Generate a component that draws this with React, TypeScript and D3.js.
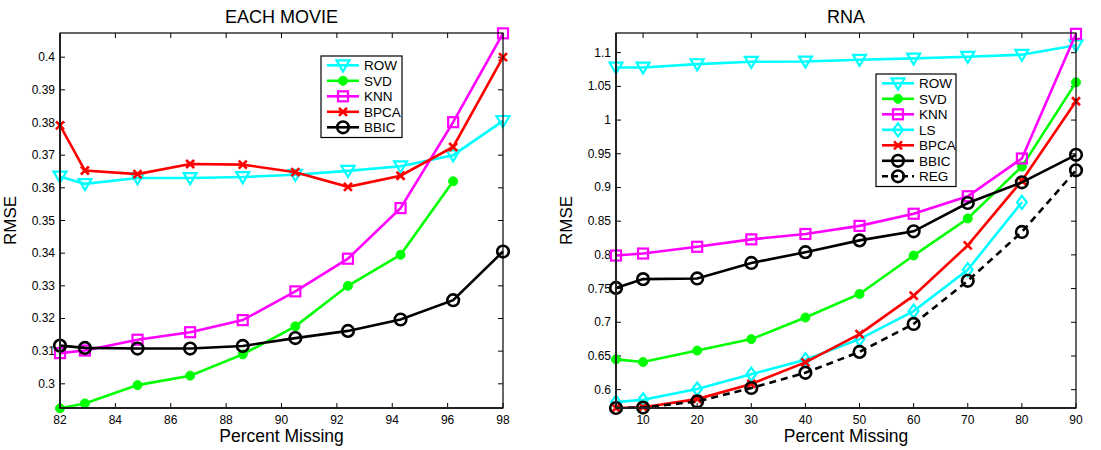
import React from "react";
import * as d3 from "d3";

// ---------- Data ----------
const movieX = [82, 82.9, 84.8, 86.7, 88.6, 90.5, 92.4, 94.3, 96.2, 98];
const movieRow = [0.3635, 0.3612, 0.363, 0.363, 0.3633, 0.364, 0.3652, 0.3666, 0.37, 0.3805];
const movieSvd = [0.2925, 0.294, 0.2996, 0.3025, 0.309, 0.3176, 0.33, 0.3395, 0.362];
const movieKnn = [0.3094, 0.3102, 0.3135, 0.3158, 0.3195, 0.3283, 0.3383, 0.3538, 0.3801, 0.4073];
const movieBpca = [0.3791, 0.3653, 0.3642, 0.3673, 0.3671, 0.3648, 0.3603, 0.3637, 0.3725, 0.4];
const movieBbic = [0.3117, 0.311, 0.3108, 0.3108, 0.3116, 0.314, 0.3162, 0.3197, 0.3256, 0.3405];
const movieXTicks = [82, 84, 86, 88, 90, 92, 94, 96, 98];
const movieYTicks = [0.3, 0.31, 0.32, 0.33, 0.34, 0.35, 0.36, 0.37, 0.38, 0.39, 0.4];

const rnaX = [5, 10, 20, 30, 40, 50, 60, 70, 80, 90];
const rnaRow = [1.078, 1.078, 1.083, 1.0865, 1.087, 1.0895, 1.0915, 1.094, 1.097, 1.111];
const rnaSvd = [0.645, 0.641, 0.658, 0.675, 0.707, 0.742, 0.799, 0.854, 0.931, 1.056];
const rnaKnn = [0.799, 0.802, 0.812, 0.823, 0.831, 0.843, 0.861, 0.887, 0.943, 1.128];
const rnaLs = [0.5815, 0.585, 0.601, 0.623, 0.6445, 0.675, 0.7165, 0.778, 0.878];
const rnaBpca = [0.5728, 0.574, 0.586, 0.6085, 0.6405, 0.6825, 0.7395, 0.814, 0.91, 1.028];
const rnaBbic = [0.751, 0.764, 0.765, 0.788, 0.804, 0.8215, 0.835, 0.877, 0.9076, 0.9485];
const rnaReg = [0.5728, 0.5735, 0.5825, 0.6025, 0.625, 0.656, 0.6975, 0.7615, 0.834, 0.9255];
const rnaXTicks = [10, 20, 30, 40, 50, 60, 70, 80, 90];
const rnaYTicks = [0.6, 0.65, 0.7, 0.75, 0.8, 0.85, 0.9, 0.95, 1, 1.05, 1.1];

type Marker = "tri" | "dot" | "square" | "x" | "circle" | "diamond";
interface Series {
  name: string;
  values: number[];
  color: string;
  marker: Marker;
  dashed?: boolean;
}

const movieSeries: Series[] = [
  { name: "ROW", values: movieRow, color: "#00ffff", marker: "tri" },
  { name: "SVD", values: movieSvd, color: "#00ff00", marker: "dot" },
  { name: "KNN", values: movieKnn, color: "#ff00ff", marker: "square" },
  { name: "BPCA", values: movieBpca, color: "#ff0000", marker: "x" },
  { name: "BBIC", values: movieBbic, color: "#000000", marker: "circle" },
];

const rnaSeries: Series[] = [
  { name: "ROW", values: rnaRow, color: "#00ffff", marker: "tri" },
  { name: "SVD", values: rnaSvd, color: "#00ff00", marker: "dot" },
  { name: "KNN", values: rnaKnn, color: "#ff00ff", marker: "square" },
  { name: "LS", values: rnaLs, color: "#00ffff", marker: "diamond" },
  { name: "BPCA", values: rnaBpca, color: "#ff0000", marker: "x" },
  { name: "BBIC", values: rnaBbic, color: "#000000", marker: "circle" },
  { name: "REG", values: rnaReg, color: "#000000", marker: "circle", dashed: true },
];

const FONT = "'Liberation Sans', Arial, Helvetica, sans-serif";

function MarkerShape({ type, x, y, color }: { type: Marker; x: number; y: number; color: string }) {
  const sw = 2.2;
  switch (type) {
    case "tri": {
      const s = 6.5;
      const p = `M${x - s},${y - s * 0.75} L${x + s},${y - s * 0.75} L${x},${y + s * 0.95} Z`;
      return <path d={p} fill="none" stroke={color} strokeWidth={sw} />;
    }
    case "dot":
      return <circle cx={x} cy={y} r={4.5} fill={color} stroke={color} strokeWidth={1} />;
    case "square":
      return <rect x={x - 5} y={y - 5} width={10} height={10} fill="none" stroke={color} strokeWidth={sw} />;
    case "x": {
      const s = 4;
      return (
        <path
          d={`M${x - s},${y - s} L${x + s},${y + s} M${x - s},${y + s} L${x + s},${y - s}`}
          stroke={color}
          strokeWidth={2.6}
          fill="none"
        />
      );
    }
    case "circle":
      return <circle cx={x} cy={y} r={5.8} fill="none" stroke={color} strokeWidth={sw + 0.4} />;
    case "diamond": {
      const s = 6.5;
      return (
        <path
          d={`M${x},${y - s} L${x + s * 0.75},${y} L${x},${y + s} L${x - s * 0.75},${y} Z`}
          fill="none"
          stroke={color}
          strokeWidth={sw}
        />
      );
    }
  }
  return null;
}

interface PanelProps {
  title: string;
  left: number;
  right: number;
  top: number;
  bottom: number;
  xDomain: [number, number];
  yDomain: [number, number];
  xs: number[];
  series: Series[];
  xTicks: number[];
  yTicks: number[];
  legend: { x: number; y: number; w: number };
}

function Panel(p: PanelProps) {
  const x = d3.scaleLinear().domain(p.xDomain).range([p.left, p.right]);
  const y = d3.scaleLinear().domain(p.yDomain).range([p.bottom, p.top]);
  const line = d3
    .line<[number, number]>()
    .x((d) => x(d[0]))
    .y((d) => y(d[1]));
  const fmt = (v: number) => String(+v.toFixed(3));
  const tl = 5;
  const cx = (p.left + p.right) / 2;
  const rowH = 15.5;
  const legH = p.series.length * rowH + 4;
  return (
    <g>
      <text x={cx} y={23} textAnchor="middle" fontFamily={FONT} fontSize={18}>
        {p.title}
      </text>
      {/* ticks */}
      {p.xTicks.map((t) => (
        <g key={"xt" + t}>
          <line x1={x(t)} x2={x(t)} y1={p.bottom} y2={p.bottom - tl} stroke="#000" strokeWidth={1} />
          <line x1={x(t)} x2={x(t)} y1={p.top} y2={p.top + tl} stroke="#000" strokeWidth={1} />
          <text x={x(t)} y={p.bottom + 16} textAnchor="middle" fontFamily={FONT} fontSize={12}>
            {fmt(t)}
          </text>
        </g>
      ))}
      {p.yTicks.map((t) => (
        <g key={"yt" + t}>
          <line x1={p.left} x2={p.left + tl} y1={y(t)} y2={y(t)} stroke="#000" strokeWidth={1} />
          <line x1={p.right} x2={p.right - tl} y1={y(t)} y2={y(t)} stroke="#000" strokeWidth={1} />
          <text x={p.left - 5} y={y(t) + 4} textAnchor="end" fontFamily={FONT} fontSize={12}>
            {fmt(t)}
          </text>
        </g>
      ))}
      <text
        transform={`translate(${p.left - 44},${(p.top + p.bottom) / 2}) rotate(-90)`}
        textAnchor="middle"
        fontFamily={FONT}
        fontSize={17}
      >
        RMSE
      </text>
      <text x={cx} y={p.bottom + 34} textAnchor="middle" fontFamily={FONT} fontSize={17.5}>
        Percent Missing
      </text>
      {/* series */}
      {p.series.map((s) => {
        const pts = s.values.map((v, i) => [p.xs[i], v] as [number, number]);
        return (
          <g key={s.name}>
            <path
              d={line(pts) || ""}
              fill="none"
              stroke={s.color}
              strokeWidth={2.6}
              strokeDasharray={s.dashed ? "7,5" : undefined}
            />
            {pts.map((d, i) => (
              <MarkerShape key={i} type={s.marker} x={x(d[0])} y={y(d[1])} color={s.color} />
            ))}
          </g>
        );
      })}
      {/* box */}
      <rect
        x={p.left}
        y={p.top}
        width={p.right - p.left}
        height={p.bottom - p.top}
        fill="none"
        stroke="#000"
        strokeWidth={1.2}
      />
      <line x1={p.left} x2={p.left} y1={p.top} y2={p.bottom} stroke="#222" strokeWidth={2} />
      <line x1={p.left} x2={p.right} y1={p.bottom} y2={p.bottom} stroke="#222" strokeWidth={2} />
      {/* legend */}
      <g transform={`translate(${p.legend.x},${p.legend.y})`}>
        <rect x={0} y={0} width={p.legend.w} height={legH} fill="#fff" stroke="#000" strokeWidth={1.2} />
        {p.series.map((s, i) => {
          const yy = 9.3 + i * rowH;
          return (
            <g key={s.name}>
              <line
                x1={6}
                x2={38}
                y1={yy}
                y2={yy}
                stroke={s.color}
                strokeWidth={2.6}
                strokeDasharray={s.dashed ? "6,4" : undefined}
              />
              <MarkerShape type={s.marker} x={22} y={yy} color={s.color} />
              <text x={43} y={yy + 5} fontFamily={FONT} fontSize={13.5}>
                {s.name}
              </text>
            </g>
          );
        })}
      </g>
    </g>
  );
}

export default function App() {
  return (
    <svg
      width={1101}
      height={450}
      style={{ position: "absolute", left: 0, top: 0, background: "#fff" }}
    >
      <rect width={1101} height={450} fill="#fff" />
      <Panel
        title="EACH MOVIE"
        left={60}
        right={503}
        top={33}
        bottom={408}
        xDomain={[82, 98]}
        yDomain={[0.2926, 0.4074]}
        xs={movieX}
        series={movieSeries}
        xTicks={movieXTicks}
        yTicks={movieYTicks}
        legend={{ x: 321, y: 56, w: 81 }}
      />
      <Panel
        title="RNA"
        left={616}
        right={1076}
        top={33}
        bottom={408}
        xDomain={[5, 90]}
        yDomain={[0.5728, 1.1292]}
        xs={rnaX}
        series={rnaSeries}
        xTicks={rnaXTicks}
        yTicks={rnaYTicks}
        legend={{ x: 876, y: 74, w: 80 }}
      />
    </svg>
  );
}
